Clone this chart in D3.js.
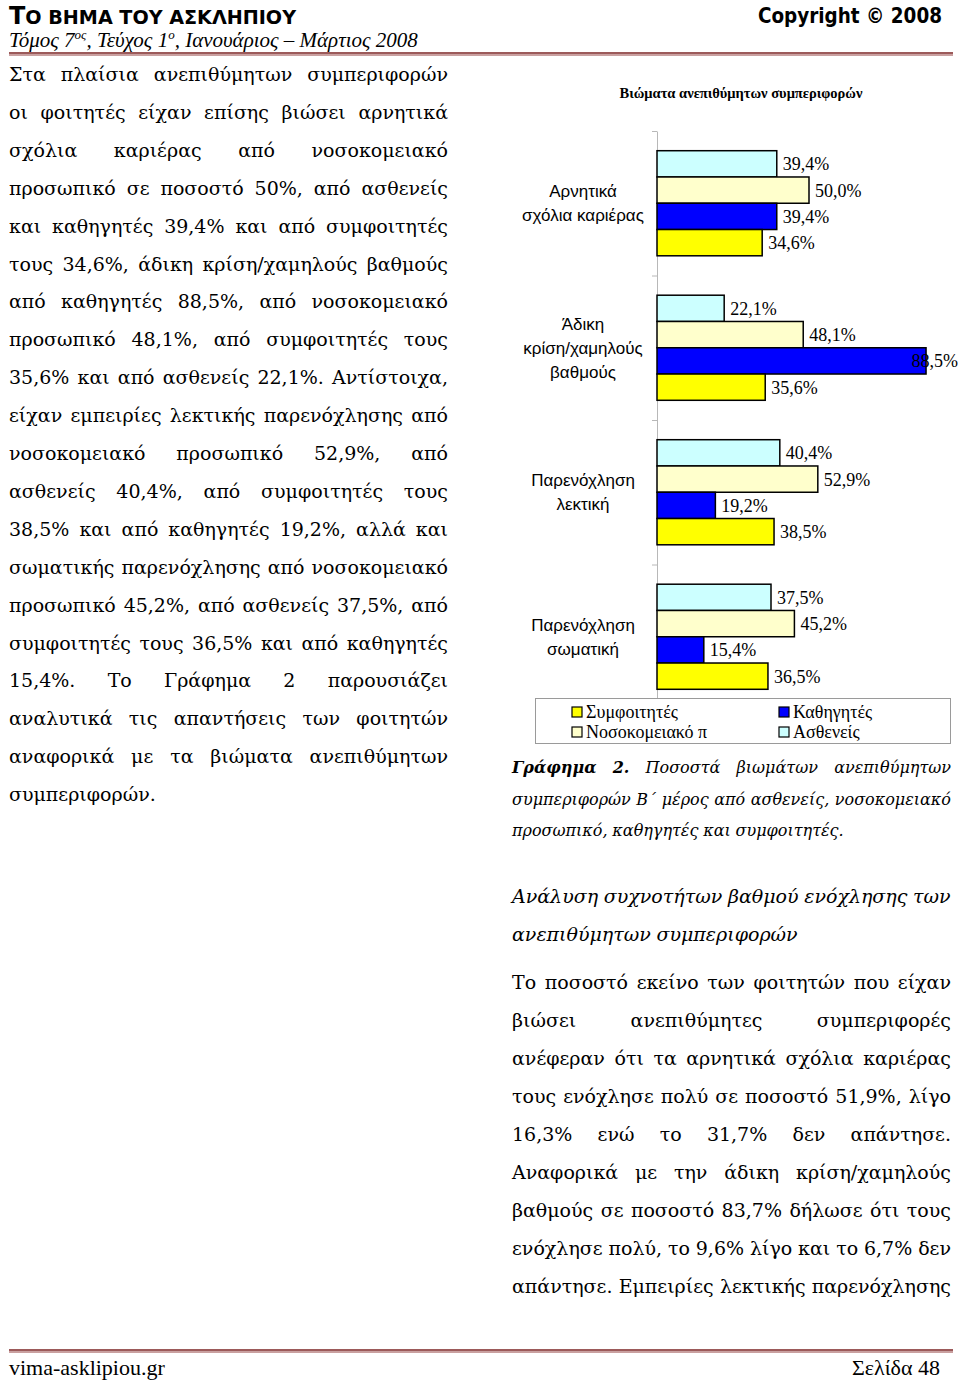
<!DOCTYPE html>
<html>
<head>
<meta charset="utf-8">
<script src="https://cdn.jsdelivr.net/npm/d3@7"></script>
<style>
  body { margin: 0; background: #fff; }
  svg { display: block; }
</style>
</head>
<body>
<div id="page"></div>
<script>
// chart data
const categories = ["Αρνητικά σχόλια καριέρας", "Άδικη κρίση/χαμηλούς βαθμούς", "Παρενόχληση λεκτική", "Παρενόχληση σωματική"];
const categoryLines = [["Αρνητικά", "σχόλια καριέρας"], ["Άδικη", "κρίση/χαμηλούς", "βαθμούς"], ["Παρενόχληση", "λεκτική"], ["Παρενόχληση", "σωματική"]];
const series = ["Ασθενείς", "Νοσοκομειακό π", "Καθηγητές", "Συμφοιτητές"];
const asthenis = [39.4, 22.1, 40.4, 37.5];
const nosokomeiako = [50.0, 48.1, 52.9, 45.2];
const kathigites = [39.4, 88.5, 19.2, 15.4];
const symfoitites = [34.6, 35.6, 38.5, 36.5];
const seriesColors = ["#ccffff", "#ffffcc", "#0000ff", "#ffff00"];
const legendOrder = ["Συμφοιτητές", "Καθηγητές", "Νοσοκομειακό π", "Ασθενείς"];

// page text
const leftLines = [
  "Στα πλαίσια ανεπιθύμητων συμπεριφορών",
  "οι φοιτητές είχαν επίσης βιώσει αρνητικά",
  "σχόλια καριέρας από νοσοκομειακό",
  "προσωπικό σε ποσοστό 50%, από ασθενείς",
  "και καθηγητές 39,4% και από συμφοιτητές",
  "τους 34,6%, άδικη κρίση/χαμηλούς βαθμούς",
  "από καθηγητές 88,5%, από νοσοκομειακό",
  "προσωπικό 48,1%, από συμφοιτητές τους",
  "35,6% και από ασθενείς 22,1%. Αντίστοιχα,",
  "είχαν εμπειρίες λεκτικής παρενόχλησης από",
  "νοσοκομειακό προσωπικό 52,9%, από",
  "ασθενείς 40,4%, από συμφοιτητές τους",
  "38,5% και από καθηγητές 19,2%, αλλά και",
  "σωματικής παρενόχλησης από νοσοκομειακό",
  "προσωπικό 45,2%, από ασθενείς 37,5%, από",
  "συμφοιτητές τους 36,5% και από καθηγητές",
  "15,4%. Το Γράφημα 2 παρουσιάζει",
  "αναλυτικά τις απαντήσεις των φοιτητών",
  "αναφορικά με τα βιώματα ανεπιθύμητων",
  "συμπεριφορών."
];
const captionLines = [
  "Γράφημα 2. Ποσοστά βιωμάτων ανεπιθύμητων",
  "συμπεριφορών Β΄ μέρος από ασθενείς, νοσοκομειακό",
  "προσωπικό, καθηγητές και συμφοιτητές."
];
const headingLines = [
  "Ανάλυση συχνοτήτων βαθμού ενόχλησης των",
  "ανεπιθύμητων συμπεριφορών"
];
const rightLines = [
  "Το ποσοστό εκείνο των φοιτητών που είχαν",
  "βιώσει ανεπιθύμητες συμπεριφορές",
  "ανέφεραν ότι τα αρνητικά σχόλια καριέρας",
  "τους ενόχλησε πολύ σε ποσοστό 51,9%, λίγο",
  "16,3% ενώ το 31,7% δεν απάντησε.",
  "Αναφορικά με την άδικη κρίση/χαμηλούς",
  "βαθμούς σε ποσοστό 83,7% δήλωσε ότι τους",
  "ενόχλησε πολύ, το 9,6% λίγο και το 6,7% δεν",
  "απάντησε. Εμπειρίες λεκτικής παρενόχλησης"
];

const svg = d3.select("#page").append("svg")
  .attr("width", 960)
  .attr("height", 1380);
svg.append("rect").attr("width", 960).attr("height", 1380).attr("fill", "#fff");

const bodyFont = "'DejaVu Serif', 'Liberation Serif', serif";

// writes one line, spreading the words over [x0, x1] when justify is set
function textLine(g, str, x0, x1, y, opts) {
  const words = str.split(" ");
  const t = g.append("text")
    .attr("y", y)
    .style("font-family", opts.font || bodyFont)
    .style("font-size", opts.size + "px")
    .style("font-style", opts.italic ? "italic" : "normal")
    .attr("fill", "#000");
  const spans = words.map((w, i) => t.append("tspan")
    .style("font-weight", i < (opts.boldWords || 0) ? "bold" : "normal")
    .text(w));
  const widths = spans.map(s => s.node().getComputedTextLength());
  const total = d3.sum(widths);
  let gap = opts.size * 0.3;
  if (opts.justify && words.length > 1) gap = (x1 - x0 - total) / (words.length - 1);
  let cx = x0;
  spans.forEach((s, i) => {
    s.attr("x", cx);
    cx += widths[i] + gap;
  });
}

// header
const head = svg.append("g");
const title = head.append("text")
  .attr("x", 9).attr("y", 24)
  .style("font-family", "'Liberation Sans Narrow', 'DejaVu Sans Condensed', sans-serif")
  .style("font-weight", "bold")
  .attr("textLength", 287)
  .attr("lengthAdjust", "spacingAndGlyphs");
title.append("tspan").style("font-size", "25px").text("Τ");
title.append("tspan").style("font-size", "20px").text("Ο ΒΗΜΑ ΤΟΥ ΑΣΚΛΗΠΙΟΥ");

head.append("text")
  .attr("x", 758).attr("y", 23)
  .style("font-family", "'Liberation Sans Narrow', 'DejaVu Sans Condensed', sans-serif")
  .style("font-weight", "bold")
  .style("font-size", "21px")
  .attr("textLength", 184)
  .attr("lengthAdjust", "spacingAndGlyphs")
  .text("Copyright © 2008");

const issue = head.append("text")
  .attr("x", 9).attr("y", 47)
  .style("font-family", "'Liberation Serif', serif")
  .style("font-style", "italic")
  .style("font-size", "21px");
issue.append("tspan").text("Τόμος 7");
issue.append("tspan").attr("dy", -8).style("font-size", "13px").text("ος");
issue.append("tspan").attr("dy", 8).text(", Τεύχος 1");
issue.append("tspan").attr("dy", -8).style("font-size", "13px").text("ο");
issue.append("tspan").attr("dy", 8).text(", Ιανουάριος – Μάρτιος 2008");

head.append("rect").attr("x", 9).attr("y", 52).attr("width", 944).attr("height", 2).attr("fill", "#9c5a5a");
head.append("rect").attr("x", 9).attr("y", 54).attr("width", 944).attr("height", 2).attr("fill", "#c9a0a0");

// left column text
const left = svg.append("g");
leftLines.forEach((l, i) => {
  textLine(left, l, 9, 448, 81 + i * 37.9, { size: 19, justify: i < leftLines.length - 1 });
});

// right column text
const right = svg.append("g");
captionLines.forEach((l, i) => {
  textLine(right, l, 512, 951, 773 + i * 31.5, { size: 16, italic: true, justify: i < 2, boldWords: i === 0 ? 2 : 0 });
});
headingLines.forEach((l, i) => {
  textLine(right, l, 512, 951, 903 + i * 38, { size: 19, italic: true, justify: false });
});
rightLines.forEach((l, i) => {
  textLine(right, l, 512, 951, 989 + i * 38, { size: 19, justify: true });
});

// footer
svg.append("rect").attr("x", 9).attr("y", 1349).attr("width", 944).attr("height", 2).attr("fill", "#9c5a5a");
svg.append("rect").attr("x", 9).attr("y", 1351).attr("width", 944).attr("height", 2).attr("fill", "#c9a0a0");
svg.append("text").attr("x", 9).attr("y", 1375)
  .style("font-family", "'Liberation Serif', serif").style("font-size", "22px")
  .text("vima-asklipiou.gr");
svg.append("text").attr("x", 940).attr("y", 1375).attr("text-anchor", "end")
  .style("font-family", "'Liberation Serif', serif").style("font-size", "22px")
  .text("Σελίδα 48");

// chart
const chart = svg.append("g");
const valuesBySeries = [asthenis, nosokomeiako, kathigites, symfoitites];

chart.append("text")
  .attr("x", 741).attr("y", 98)
  .attr("text-anchor", "middle")
  .style("font-family", "'Liberation Serif', serif")
  .style("font-weight", "bold")
  .style("font-size", "14.5px")
  .text("Βιώματα ανεπιθύμητων συμπεριφορών");

const x = d3.scaleLinear().domain([0, 100]).range([657, 961]);
const y = d3.scaleBand().domain(categories).range([131, 709]).paddingInner(0).paddingOuter(0);
const ySeries = d3.scaleBand().domain(series).range([0, y.bandwidth()]).paddingInner(0).paddingOuter(0.75);
const yEdge = d3.scaleLinear().domain([0, categories.length]).range([131, 709]);

const axis = chart.append("g")
  .attr("transform", `translate(${x(0)},0)`)
  .call(d3.axisLeft(yEdge).ticks(categories.length).tickFormat("").tickSize(5).tickSizeOuter(0));
axis.select(".domain").attr("stroke", "#b8b8b8");
axis.selectAll(".tick line").attr("stroke", "#b8b8b8");

const cells = [];
categories.forEach((c, ci) => {
  series.forEach((s, si) => cells.push({ cat: c, ci, s, si, v: valuesBySeries[si][ci] }));
});

chart.selectAll(".bar")
  .data(cells)
  .enter()
  .append("rect")
  .attr("class", "bar")
  .attr("x", x(0))
  .attr("y", d => y(d.cat) + ySeries(d.s))
  .attr("width", d => x(d.v) - x(0))
  .attr("height", ySeries.bandwidth())
  .attr("fill", d => seriesColors[d.si])
  .attr("stroke", "#000")
  .attr("stroke-width", 1.5);

const fmt = v => d3.format(".1f")(v).replace(".", ",") + "%";
chart.selectAll(".label")
  .data(cells)
  .enter()
  .append("text")
  .attr("class", "label")
  .attr("y", d => y(d.cat) + ySeries(d.s) + ySeries.bandwidth() / 2)
  .attr("dy", "0.36em")
  .style("font-family", "'Liberation Serif', serif")
  .style("font-size", "18px")
  .text(d => fmt(d.v))
  .each(function(d) {
    const w = this.getComputedTextLength();
    d3.select(this).attr("x", Math.min(x(d.v) + 6, 958 - w));
  });

const catLabels = chart.selectAll(".cat")
  .data(categories)
  .enter()
  .append("text")
  .attr("class", "cat")
  .attr("text-anchor", "middle")
  .style("font-family", "'Liberation Sans', Arial, sans-serif")
  .style("font-size", "17px");
catLabels.each(function(c, i) {
  const lines = categoryLines[i];
  const cy = y(c) + y.bandwidth() / 2;
  lines.forEach((l, li) => {
    d3.select(this).append("tspan")
      .attr("x", 583)
      .attr("y", cy + (li - (lines.length - 1) / 2) * 24 + 6)
      .text(l);
  });
});

// legend
const legend = chart.append("g");
legend.append("rect")
  .attr("x", 535.5).attr("y", 698.5).attr("width", 415).attr("height", 45)
  .attr("fill", "#fff").attr("stroke", "#9a9a9a");
const legendItems = legend.selectAll(".item")
  .data(legendOrder)
  .enter()
  .append("g")
  .attr("class", "item")
  .attr("transform", (d, i) => `translate(${i % 2 === 0 ? 572 : 779},${Math.floor(i / 2) === 0 ? 707 : 727})`);
legendItems.append("rect")
  .attr("width", 10).attr("height", 10)
  .attr("fill", d => seriesColors[series.indexOf(d)])
  .attr("stroke", "#000").attr("stroke-width", 1.2);
legendItems.append("text")
  .attr("x", 14).attr("y", 11)
  .style("font-family", "'Liberation Serif', serif")
  .style("font-size", "18px")
  .text(d => d);
</script>
</body>
</html>
